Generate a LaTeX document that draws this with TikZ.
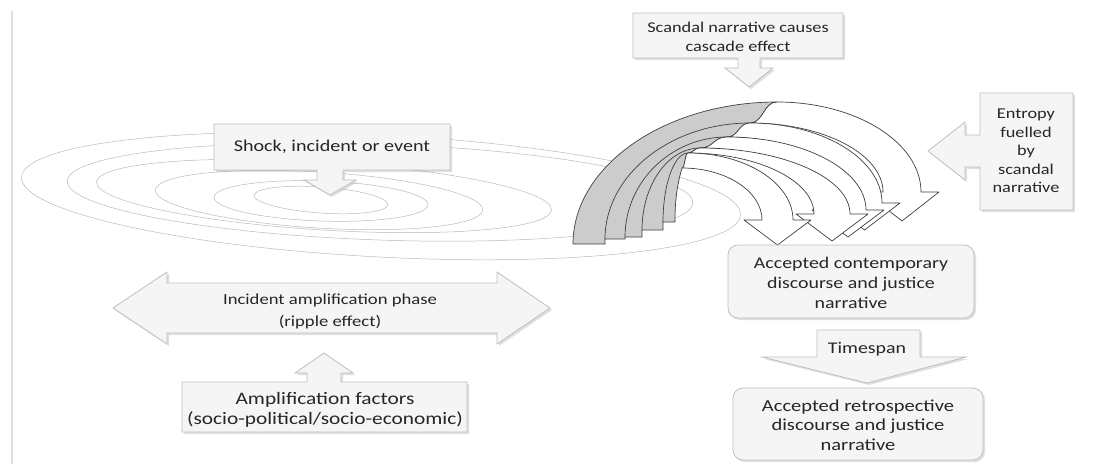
\documentclass[tikz,border=0pt]{standalone}
\usepackage{fontspec}
\newfontfamily\calloutfont[FakeStretch=1.22]{Carlito}
\usetikzlibrary{shadows}

\tikzstyle{calloutbox}=[draw=gray!50,line width=0.8pt,fill=gray!8,
  drop shadow={opacity=0.25,shadow xshift=2pt,shadow yshift=-2pt}]
\tikzstyle{ripple}=[draw=gray!55,line width=0.5pt]
\tikzstyle{arcback}=[draw=black!75,line width=0.7pt,fill=black!20,line join=round]
\tikzstyle{arcfront}=[draw=black!75,line width=0.7pt,fill=white,line join=round]
\tikzstyle{txt}=[align=center,text=black!85,inner sep=0pt]

\newcommand{\txtsize}[2]{\calloutfont\fontsize{#1}{#2}\selectfont}

\begin{document}
\begin{tikzpicture}[x=1pt,y=-1pt]
    \useasboundingbox (0,0) rectangle (1100,466);

    % page edge
    \draw[gray!25,line width=2.6pt] (12,11) -- (12,464);

    % ripples round the incident
    \draw[ripple,rotate around={-3:(381,196)}] (381,196) ellipse [x radius=360,y radius=61];
    \draw[ripple,rotate around={-2:(380,192)}] (380,192) ellipse [x radius=313,y radius=48];
    \draw[ripple,rotate around={-3.5:(324,196)}] (324,196) ellipse [x radius=228,y radius=34];
    \draw[ripple,rotate around={-3.5:(319,200)}] (319,200) ellipse [x radius=164,y radius=28];
    \draw[ripple,rotate around={-2:(321,201)}] (321,201) ellipse [x radius=107,y radius=20];
    \draw[ripple,rotate around={-4:(321,200)}] (321,200) ellipse [x radius=67,y radius=13];

    % cascade: back of the arcs
    \path[arcback] (573,244) .. controls (573,166) and (665,102) .. (777,102)
        .. controls (763,102) and (764,123) .. (750,123)
        .. controls (738,123) and (739,137) .. (727,137)
        .. controls (713,137) and (714,148) .. (700,148)
        .. controls (694,148) and (694,153) .. (688,153)
        .. controls (685,153) and (685,168) .. (682,168)
        .. controls (677,185) and (675,200) .. (675,222)
        -- (663,222) -- (663,230) -- (642,230) -- (642,237) -- (625,237)
        -- (625,239) -- (605,239) -- (605,244) -- cycle;
    \foreach \xl/\yb/\ax/\ay in {605/239/750/123,625/237/727/137,642/230/700/148,663/222/688/153}
        \draw[arcback,fill=none] (\xl,\yb) .. controls (\xl,{\yb-0.55*(\yb-\ay)})
            and ({\ax-0.55*(\ax-\xl)},\ay) .. (\ax,\ay);

    % cascade: front of the arcs with heads
    \foreach \ax/\ay/\xro/\xri/\yr/\ty/\nx/\ny in {777/102/921/883/192/221/750/123,
            750/123/882/847/203/230/727/137,727/137/866/830/210/237/700/148,
            700/148/850/814/214/241/688/153,688/153/793/762/220/245/682/168}
        \draw[arcfront] (\ax,\ay) .. controls ({\ax+0.55*(\xro-\ax)},\ay)
            and (\xro,{\yr-0.55*(\yr-\ay)}) .. (\xro,\yr)
            -- ({\xro+18},\yr) -- ({(\xro+\xri)/2},\ty) -- ({\xri-18},\yr) -- (\xri,\yr)
            .. controls (\xri,{\yr-0.55*(\yr-\ny)}) and ({\nx+0.55*(\xri-\nx)},\ny) .. (\nx,\ny)
            .. controls ({(\nx+\ax)/2},\ny) and ({(\nx+\ax)/2},\ay) .. cycle;

    % callouts
    \draw[calloutbox] (214,124) -- (450,124) -- (450,170) -- (343,170) -- (343,180)
        -- (356,180) -- (330,195) -- (304,180) -- (317,180) -- (317,170) -- (214,170) -- cycle;
    \node[txt,font=\txtsize{16.5}{20}] (shock) at (332,147) {Shock, incident or event};

    \draw[calloutbox] (633,13) -- (843,13) -- (843,58) -- (760,58) -- (760,68)
        -- (773,68) -- (749,87) -- (725,68) -- (738,68) -- (738,58) -- (633,58) -- cycle;
    \node[txt,font=\txtsize{15}{19}] (scandal) at (738,37) {Scandal narrative causes\\cascade effect};

    \draw[calloutbox] (980,93) -- (1073,93) -- (1073,210) -- (980,210) -- (980,167)
        -- (965,167) -- (965,180) -- (928,151) -- (965,122) -- (965,135) -- (980,135) -- cycle;
    \node[txt,font=\txtsize{15}{18.5}] (entropy) at (1026,151) {Entropy\\fuelled\\by\\scandal\\narrative};

    \draw[calloutbox] (113,308) -- (167,272) -- (167,283) -- (497,283) -- (497,272)
        -- (550,308) -- (497,344) -- (497,333) -- (167,333) -- (167,344) -- cycle;
    \node[txt,font=\txtsize{15.3}{22}] (phase) at (330,311) {Incident amplification phase\\(ripple effect)};

    \draw[calloutbox] (182,382) -- (307,382) -- (307,373) -- (295,373) -- (324,353)
        -- (353,373) -- (341,373) -- (341,382) -- (467,382) -- (467,432) -- (182,432) -- cycle;
    \node[txt,font=\txtsize{17.5}{20}] (factors) at (325,410) {Amplification factors\\(socio-political/socio-economic)};

    \draw[calloutbox,rounded corners=10pt] (728,245) rectangle (974,318);
    \node[txt,font=\txtsize{16.3}{20}] (contemporary) at (851,283) {Accepted contemporary\\discourse and justice\\narrative};

    \draw[calloutbox] (817,330) -- (920,330) -- (920,357) -- (966,357) -- (867,383)
        -- (762,357) -- (817,357) -- cycle;
    \node[txt,font=\txtsize{16.3}{20}] (timespan) at (867,349) {Timespan};

    \draw[calloutbox,rounded corners=10pt] (733,388) rectangle (983,460);
    \node[txt,font=\txtsize{16.8}{19.5}] (retrospective) at (858,425) {Accepted retrospective\\discourse and justice\\narrative};
\end{tikzpicture}
\end{document}
